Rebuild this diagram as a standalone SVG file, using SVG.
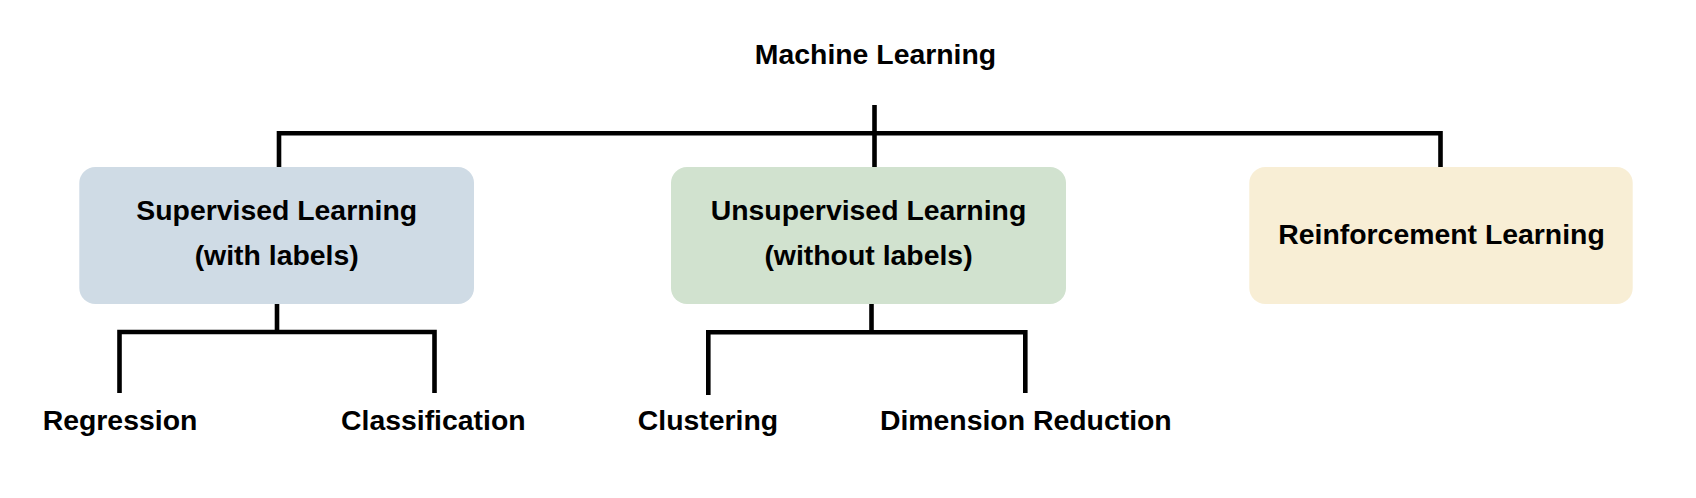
<svg xmlns="http://www.w3.org/2000/svg" width="1696" height="498" viewBox="0 0 1696 498">
  <style>
    text { font-family: "Liberation Sans", Arial, sans-serif; font-weight: bold; font-size: 28.4px; fill: #000; text-anchor: middle; }
    .box { stroke: none; }
    .conn { fill: none; stroke: #000; stroke-width: 4.6; stroke-linejoin: miter; stroke-linecap: butt; }
  </style>
  <rect width="1696" height="498" fill="#ffffff"/>
  <g id="connectors">
    <path class="conn" d="M874.5 105 V167"/>
    <path class="conn" d="M279 167 V133.3 H1440.5 V167"/>
    <path class="conn" d="M277 304 V332"/>
    <path class="conn" d="M119.5 393 V332 H434.5 V393"/>
    <path class="conn" d="M871.5 304 V332.3"/>
    <path class="conn" d="M708.3 395 V332.3 H1025.3 V393"/>
  </g>
  <g id="machine-learning">
    <text x="875.5" y="64">Machine Learning</text>
  </g>
  <g id="supervised">
    <rect class="box" x="79.3" y="167" width="394.7" height="137" rx="16" fill="#cfdbe5"/>
    <text x="276.7" y="220">Supervised Learning</text>
    <text x="276.7" y="265">(with labels)</text>
  </g>
  <g id="unsupervised">
    <rect class="box" x="671" y="167" width="395" height="137" rx="16" fill="#d1e2cf"/>
    <text x="868.5" y="220">Unsupervised Learning</text>
    <text x="868.5" y="265">(without labels)</text>
  </g>
  <g id="reinforcement">
    <rect class="box" x="1249.3" y="167" width="383.4" height="137" rx="16" fill="#f8eed5"/>
    <text x="1441.5" y="243.5">Reinforcement Learning</text>
  </g>
  <g id="regression">
    <text x="120" y="430">Regression</text>
  </g>
  <g id="classification">
    <text x="433.3" y="430">Classification</text>
  </g>
  <g id="clustering">
    <text x="708" y="430">Clustering</text>
  </g>
  <g id="dimension-reduction">
    <text x="1025.8" y="430">Dimension Reduction</text>
  </g>
</svg>
